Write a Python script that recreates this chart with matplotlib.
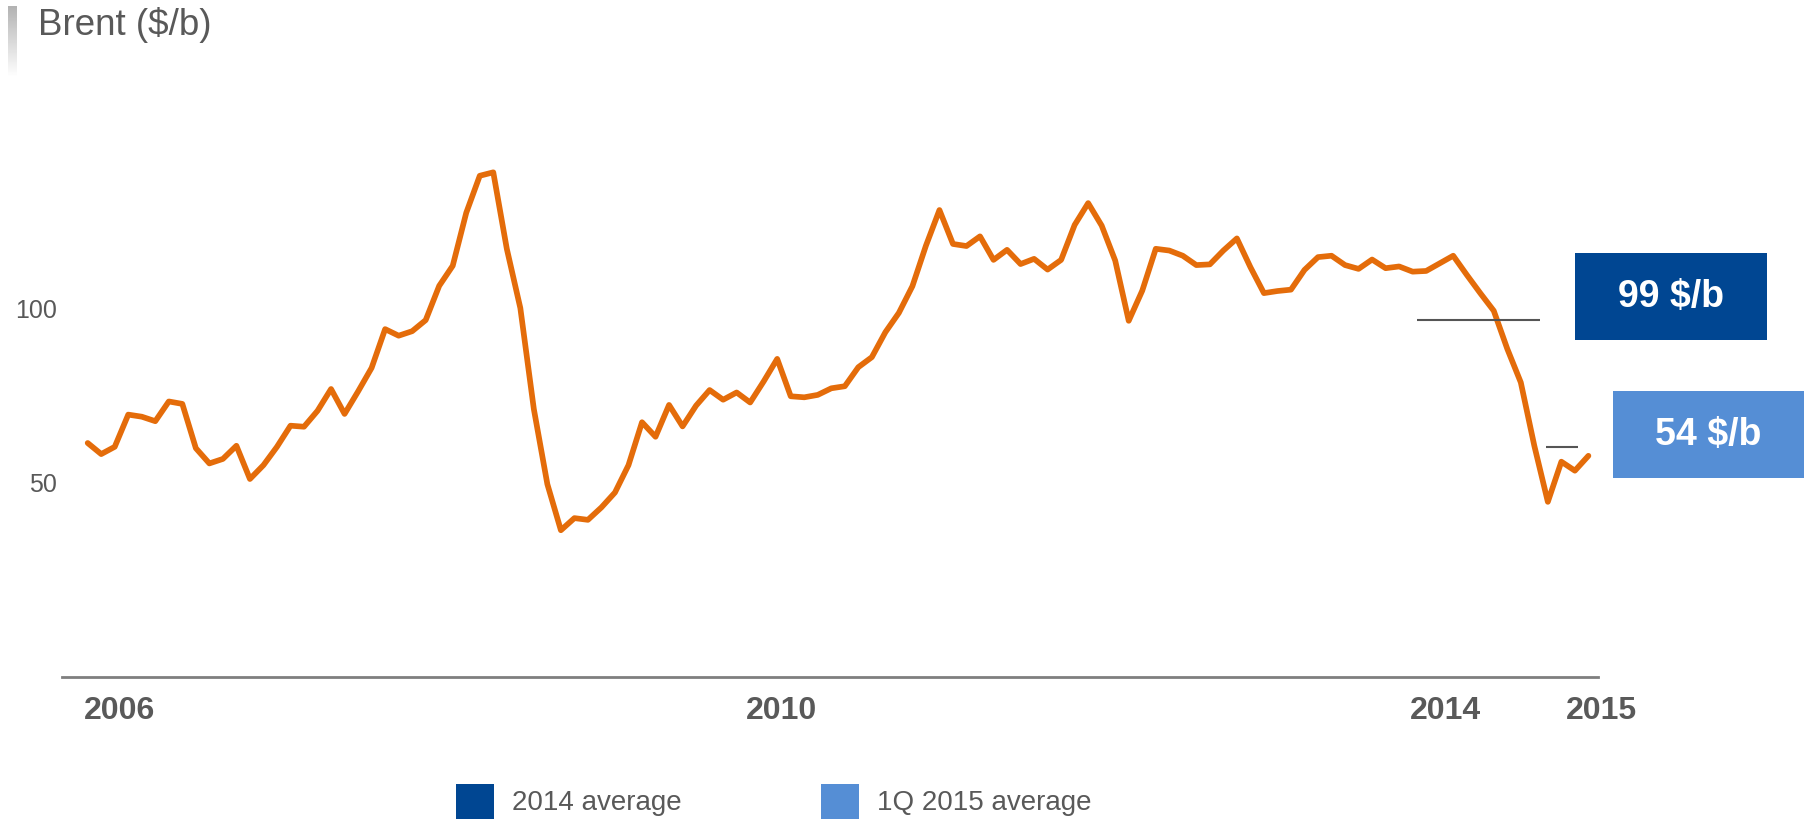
import numpy as np
import pandas as pd
import matplotlib
matplotlib.use("Agg")
import matplotlib.pyplot as plt
from matplotlib.patches import Rectangle

plt.rcParams['font.family'] = ['Liberation Sans', 'DejaVu Sans']

months = pd.date_range("2006-01-01", periods=112, freq="MS")
brent = [61.0, 57.8, 59.9, 69.2, 68.6, 67.3, 73.0, 72.3, 59.5, 55.1, 56.4, 60.2,
         50.6, 54.6, 59.9, 66.0, 65.7, 70.3, 76.6, 69.4, 75.9, 82.7, 93.9, 92.0,
         93.3, 96.5, 106.4, 112.2, 127.5, 138.2, 139.2, 117.1, 100.0, 70.8, 49.1, 35.8,
         39.3, 38.8, 42.4, 46.7, 54.6, 67.0, 62.8, 72.0, 65.8, 71.8, 76.3, 73.5,
         75.6, 72.7, 78.8, 85.3, 74.5, 74.2, 74.9, 76.8, 77.4, 82.9, 85.8, 93.0,
         98.6, 106.3, 118.0, 128.3, 118.5, 117.9, 120.7, 113.9, 116.8, 112.7, 114.2, 111.1,
         113.9, 124.0, 130.3, 123.8, 113.7, 96.3, 105.0, 117.1, 116.6, 115.1, 112.4, 112.6,
         116.6, 120.1, 111.8, 104.3, 104.9, 105.3, 111.0, 114.7, 115.1, 112.4, 111.3, 114.0,
         111.5, 112.0, 110.5, 110.7, 112.9, 115.1, 109.6, 104.3, 99.2, 88.2, 78.5, 60.2,
         44.0, 55.6, 53.0, 57.3]

year_labels = ["2006", "2010", "2014", "2015"]
y_ticks = [50, 100]

avg_names = ["2014 average", "1Q 2015 average"]
avg_levels = [96.5, 59.8]
avg_texts = ["99 $/b", "54 $/b"]
avg_colors = ["#004692", "#558ED5"]

W, H = 1804, 820
fig = plt.figure(figsize=(W / 100, H / 100), dpi=100)

def fx(px):
    return px / W

def fy(py):
    return 1 - py / H

# main axes, placed in pixels
ax = fig.add_axes([fx(62), fy(678), fx(1598 - 62), (678 - 120) / H])
x = np.arange(len(brent))
ax.plot(x, brent, color="#E46C0A", lw=4.1, solid_joinstyle="round", solid_capstyle="round")

ax.set_xlim(-1.90, 111.71)
ax.set_ylim(-6.6, 154.6)

for s in ["top", "right", "left"]:
    ax.spines[s].set_visible(False)
ax.spines["bottom"].set_color("#7f7f7f")
ax.spines["bottom"].set_linewidth(2)

ax.set_xticks([])
ax.set_yticks(y_ticks)
ax.set_yticklabels([str(t) for t in y_ticks])
ax.tick_params(axis="y", length=0, pad=3.6, labelsize=18, labelcolor="#595959")

# year labels under the axis
year_pos = [2.32, 51.35, 100.39, 111.93]
for xp, lab in zip(year_pos, year_labels):
    ax.text(xp, -0.06, lab, transform=ax.get_xaxis_transform(), ha="center", va="center",
            fontsize=23, fontweight="bold", color="#595959", clip_on=False)

# average lines
avg_spans = [(98.32, 107.42), (107.86, 110.23)]
for (x0, x1), lvl in zip(avg_spans, avg_levels):
    ax.plot([x0, x1], [lvl, lvl], color="#555555", lw=1.5, solid_capstyle="butt")

# value boxes
boxes = [(1575, 254, 192, 87), (1613, 392, 191, 87)]
for (bx, by, bw, bh), txt, col in zip(boxes, avg_texts, avg_colors):
    fig.patches.append(Rectangle((fx(bx), fy(by + bh)), bw / W, bh / H,
                                 transform=fig.transFigure, color=col, lw=0))
    fig.text(fx(bx + bw / 2), fy(by + bh / 2), txt, ha="center", va="center",
             fontsize=27, fontweight="bold", color="white")

# legend
leg_x = [456, 821]
for lx, name, col in zip(leg_x, avg_names, avg_colors):
    fig.patches.append(Rectangle((fx(lx), fy(823)), 38 / W, 38 / H,
                                 transform=fig.transFigure, color=col, lw=0))
    fig.text(fx(lx + 56), fy(803), name, ha="left", va="center",
             fontsize=20, color="#595959")

# title with the gray gradient marker
fig.text(fx(38), fy(35), "Brent ($/b)", ha="left", va="baseline",
         fontsize=26.5, color="#595959")
gax = fig.add_axes([fx(8), fy(78), 9 / W, 71 / H])
grad = np.linspace(0.70, 1.0, 100).reshape(-1, 1)
gax.imshow(grad, aspect="auto", cmap="gray", vmin=0, vmax=1)
gax.axis("off")

fig.savefig("out.png", dpi=100)
